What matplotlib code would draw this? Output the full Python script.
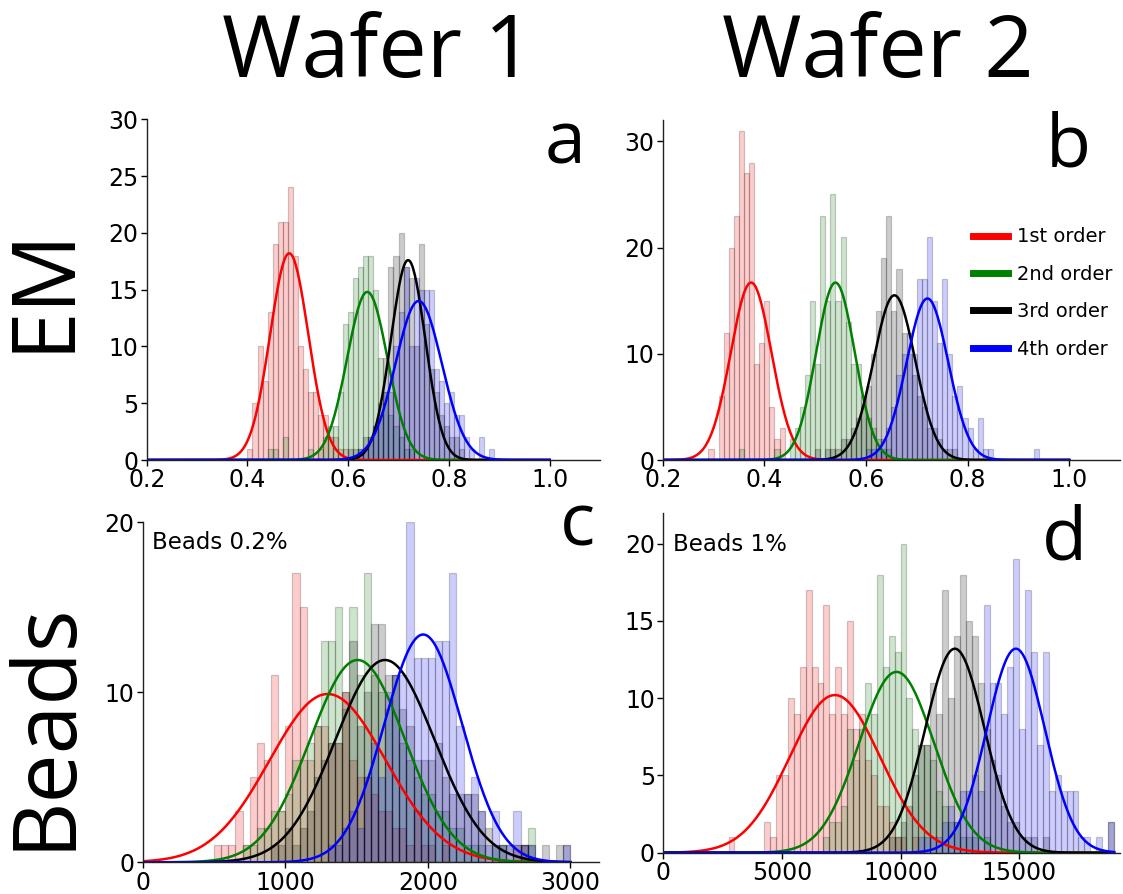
import numpy as np
import matplotlib.pyplot as plt
from matplotlib.lines import Line2D

W, H = 1123, 894

orders = ['1st order', '2nd order', '3rd order', '4th order']
colors = ['red', 'green', 'black', 'blue']

# ---- EM, wafer 1 (bin width 0.01) ----
bin_a = 0.01
starts_a = [0.40, 0.44, 0.60, 0.62]
red_a = [1, 5, 10, 7, 13, 19, 21, 21, 24, 18, 10, 8, 6, 6, 4, 4, 2, 2, 1, 1]
green_a = [1, 1, 0, 2, 0, 0, 0, 0, 1, 0, 1, 2, 3, 3, 6, 12, 13, 16, 17, 18,
           18, 15, 9, 6, 4, 3, 2, 1, 1]
black_a = [1, 1, 1, 2, 2, 3, 5, 9, 17, 18, 20, 17, 16, 10, 19, 12, 8, 6, 4, 3,
           2, 2, 1]
blue_a = [1, 1, 2, 3, 4, 6, 6, 10, 13, 17, 10, 16, 15, 15, 15, 8, 7, 5, 6, 4,
          4, 2, 1, 0, 2, 0, 1]
amp_a = [18.2, 14.8, 17.6, 14.0]
mu_a = [0.483, 0.638, 0.719, 0.740]
sig_a = [0.038, 0.040, 0.034, 0.046]

# ---- EM, wafer 2 (bin width 0.01) ----
bin_b = 0.01
starts_b = [0.29, 0.35, 0.50, 0.60]
red_b = [1, 0, 6, 12, 20, 23, 31, 27, 28, 9, 11, 15, 5, 2, 3]
green_b = [1, 0, 0, 0, 0, 0, 0, 1, 0, 0, 2, 3, 5, 8, 15, 9, 23, 15, 25, 15,
           21, 13, 9, 9, 6, 4, 3, 2, 1, 1]
black_b = [1, 0, 1, 1, 1, 2, 2, 3, 4, 5, 7, 10, 14, 19, 23, 14, 18, 12, 10, 8,
           6, 5, 3, 3, 2, 1, 1, 1]
blue_b = [1, 1, 1, 2, 3, 5, 8, 10, 12, 10, 17, 17, 21, 15, 11, 17, 10, 6, 7, 4,
          3, 1, 4, 1, 1, 0, 0, 0, 0, 0, 0, 0, 0, 1]
amp_b = [16.7, 16.7, 15.5, 15.2]
mu_b = [0.374, 0.540, 0.656, 0.721]
sig_b = [0.040, 0.038, 0.041, 0.041]

# ---- Beads 0.2%, wafer 1 (bin width 50) ----
bin_c = 50
starts_c = [500, 700, 900, 1300]
red_c = [1, 1, 1, 3, 1, 5, 7, 6, 11, 3, 8, 17, 15, 6, 8, 8, 7, 7, 10, 6,
         5, 5, 4, 3, 3, 2, 2, 1, 3, 1, 1, 0, 1, 0, 0, 0, 0, 0, 0, 0,
         0, 0, 1, 1]
green_c = [1, 1, 2, 2, 3, 3, 4, 6, 6, 7, 8, 13, 13, 15, 9, 15, 11, 17, 11, 10,
           9, 11, 7, 6, 5, 4, 4, 3, 3, 2, 2, 1, 1, 1, 0, 1, 1, 0, 0, 1, 2]
black_c = [1, 1, 2, 1, 2, 3, 5, 6, 7, 7, 10, 13, 8, 10, 14, 14, 11, 11, 9, 8,
           6, 6, 6, 7, 5, 4, 4, 4, 4, 3, 2, 1, 1, 1, 1, 1, 1, 0, 1, 0, 1, 1]
blue_c = [1, 1, 2, 3, 2, 5, 7, 5, 10, 11, 11, 20, 12, 12, 12, 13, 13, 17, 8, 4,
          5, 3, 1, 3, 1, 1, 3, 1, 1, 0, 0, 0, 0, 1]
amp_c = [9.9, 11.9, 11.9, 13.4]
mu_c = [1297, 1507, 1699, 1967]
sig_c = [407, 333, 347, 273]

# ---- Beads 1%, wafer 2 (bin width 250) ----
bin_d = 250
starts_d = [2750, 6750, 9500, 10750]
red_d = [1, 0, 0, 0, 0, 0, 2, 1, 5, 5, 10, 9, 12, 17, 12, 11, 16, 9, 12, 9,
         15, 8, 9, 6, 5, 3, 3, 2, 1, 1, 0, 1]
green_d = [1, 2, 2, 3, 8, 6, 8, 11, 9, 18, 12, 14, 13, 20, 10, 8, 7, 7, 6, 4,
           3, 2, 2, 1, 1, 1, 0, 1]
black_d = [1, 1, 2, 3, 5, 7, 7, 11, 9, 17, 10, 14, 18, 15, 14, 11, 8, 6, 5, 3,
           2, 2, 1, 1, 1, 0, 1, 0, 0, 0, 0, 0, 0, 0, 0, 0, 0, 2]
blue_d = [1, 1, 1, 1, 2, 3, 2, 4, 4, 5, 4, 16, 11, 11, 9, 12, 19, 8, 17, 13,
          7, 13, 4, 5, 4, 4, 4, 1, 1, 0, 1, 0, 2]
amp_d = [10.2, 11.7, 13.2, 13.2]
mu_d = [7233, 9831, 12289, 14860]
sig_d = [1908, 1581, 1253, 1223]


def frac(left, right, top, bottom):
    # pixel box -> figure fraction rect
    return [left / W, 1 - bottom / H, (right - left) / W, (bottom - top) / H]


def draw_hist(ax, start, width, counts, color):
    counts = np.asarray(counts, dtype=float)
    edges = start + width * np.arange(len(counts))
    keep = counts > 0
    ax.bar(edges[keep], counts[keep], width=width, align='edge',
           color=color, alpha=0.2, edgecolor='black', linewidth=0.9)


def draw_panel(ax, starts, width, hists, amps, mus, sigs, fit_range,
               xlim, ylim, xticks, yticks):
    for s, h, c in zip(starts, hists, colors):
        draw_hist(ax, s, width, h, c)
    xs = np.linspace(fit_range[0], fit_range[1], 500)
    for a, m, sg, c in zip(amps, mus, sigs, colors):
        ax.plot(xs, a * np.exp(-0.5 * ((xs - m) / sg) ** 2), color=c, lw=1.8)
    ax.set_xlim(*xlim)
    ax.set_ylim(*ylim)
    ax.set_xticks(xticks)
    ax.set_yticks(yticks)
    ax.spines['top'].set_visible(False)
    ax.spines['right'].set_visible(False)
    for sp in ('left', 'bottom'):
        ax.spines[sp].set_color('#222222')
        ax.spines[sp].set_linewidth(1.0)
    ax.tick_params(labelsize=17, length=4, width=1, pad=2)


fig = plt.figure(figsize=(W / 100, H / 100), dpi=100)

ax_a = fig.add_axes(frac(146.7, 600, 119.3, 460))
draw_panel(ax_a, starts_a, bin_a, [red_a, green_a, black_a, blue_a],
           amp_a, mu_a, sig_a, (0.2, 1.0), (0.2, 1.1), (0, 30),
           [0.2, 0.4, 0.6, 0.8, 1.0], [0, 5, 10, 15, 20, 25, 30])

ax_b = fig.add_axes(frac(662.7, 1120, 120, 460))
draw_panel(ax_b, starts_b, bin_b, [red_b, green_b, black_b, blue_b],
           amp_b, mu_b, sig_b, (0.2, 1.0), (0.2, 1.1), (0, 32),
           [0.2, 0.4, 0.6, 0.8, 1.0], [0, 10, 20, 30])

ax_c = fig.add_axes(frac(142.7, 599, 522.3, 862.3))
draw_panel(ax_c, starts_c, bin_c, [red_c, green_c, black_c, blue_c],
           amp_c, mu_c, sig_c, (0, 3000), (0, 3200), (0, 20),
           [0, 1000, 2000, 3000], [0, 10, 20])

ax_d = fig.add_axes(frac(663.3, 1120, 512.7, 852.7))
draw_panel(ax_d, starts_d, bin_d, [red_d, green_d, black_d, blue_d],
           amp_d, mu_d, sig_d, (0, 19000), (0, 19250), (0, 22),
           [0, 5000, 10000, 15000], [0, 5, 10, 15, 20])

# legend with thick colour bars
handles = [Line2D([], [], color=c, lw=5) for c in colors]
ax_b.legend(handles, orders, loc='center left', bbox_to_anchor=(0.678, 0.491),
            frameon=False, fontsize=14, borderaxespad=0, borderpad=0,
            handlelength=1.8, handletextpad=0.5, labelspacing=0.95)

# panel letters and inset notes
big = 'Open Sans'
for ax, letter, (px, py) in zip([ax_a, ax_b, ax_c, ax_d], 'abcd',
                                [(565, 163), (1068, 167), (578, 545), (1064, 560)]):
    fig.text(px / W, 1 - py / H, letter, fontsize=53, family=big,
             ha='center', va='baseline')

fig.text(152 / W, 1 - 549 / H, 'Beads 0.2%', fontsize=16.5, ha='left', va='baseline')
fig.text(673 / W, 1 - 551 / H, 'Beads 1%', fontsize=16.5, ha='left', va='baseline')

# column and row headers
fig.text(378 / W, 1 - 77 / H, 'Wafer 1', fontsize=62, family=big,
         ha='center', va='baseline')
fig.text(878 / W, 1 - 77 / H, 'Wafer 2', fontsize=62, family=big,
         ha='center', va='baseline')
fig.text(45 / W, 1 - 288 / H, 'EM', fontsize=63, family=big, rotation=90,
         ha='center', va='center')
fig.text(45 / W, 1 - 725 / H, 'Beads', fontsize=63, family=big, rotation=90,
         ha='center', va='center')

fig.savefig('out.png', dpi=100)
